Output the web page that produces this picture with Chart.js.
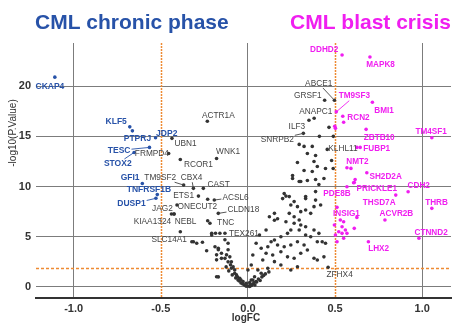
<!DOCTYPE html>
<html>
<head>
<meta charset="utf-8">
<script src="https://cdn.jsdelivr.net/npm/chart.js@4"></script>
<style>
  html, body { margin: 0; padding: 0; background: #fff; }
  #wrap { width: 455px; height: 329px; }
</style>
</head>
<body>
<div id="wrap"><canvas id="volcano" width="455" height="329"></canvas></div>
<script>
// axis ticks
const fcTicks = [-1.0, -0.5, 0.0, 0.5, 1.0];
const pTicks = [0, 5, 10, 15, 20];
const fcCutoff = 0.5;
const pCutoff = 1.9;

// labelled genes: [name, logFC, -log10(p)]
const chronicGenes = [
  ["CKAP4", -1.108, 20.9], ["KLF5", -0.678, 15.95], ["PTPRJ", -0.663, 15.55],
  ["JDP2", -0.53, 14.86], ["TESC", -0.565, 13.9], ["STOX2", -0.653, 13.4],
  ["GFI1", -0.606, 10.3], ["TNFRSF1B", -0.52, 9.2], ["DUSP1", -0.528, 8.83]
];
const blastGenes = [
  ["DDHD2", 0.54, 23.1], ["MAPK8", 0.70, 22.9], ["TM9SF3", 0.507, 17.44],
  ["BMI1", 0.714, 18.4], ["RCN2", 0.544, 17.0], ["ZBTB10", 0.678, 15.7],
  ["TM4SF1", 1.055, 14.86], ["FUBP1", 0.625, 13.9], ["NMT2", 0.568, 11.87],
  ["SH2D2A", 0.682, 11.37], ["PRICKLE1", 0.615, 10.7], ["CDH2", 0.919, 9.48],
  ["PDE8B", 0.568, 9.98], ["THSD7A", 0.848, 9.15], ["THRB", 1.055, 7.83],
  ["INSIG1", 0.625, 6.93], ["ACVR2B", 0.786, 6.67], ["CTNND2", 0.981, 4.85],
  ["LHX2", 0.691, 4.5]
];
const otherGenes = [
  ["FRMPD4", -0.455, 13.3], ["UBN1", -0.436, 14.8], ["ACTR1A", -0.233, 16.5],
  ["WNK1", -0.18, 12.8], ["RCOR1", -0.388, 12.7], ["TM9SF2", -0.369, 10.15],
  ["CBX4", -0.313, 9.82], ["CAST", -0.256, 9.82], ["ETS1", -0.284, 9.05],
  ["ACSL6", -0.193, 8.66], ["JAG2", -0.439, 7.26], ["ONECUT2", -0.407, 8.16],
  ["CLDN18", -0.17, 7.33], ["KIAA1324", -0.424, 7.26], ["NEBL", -0.388, 5.5],
  ["TNC", -0.231, 6.6], ["TEX261", -0.132, 5.35], ["SLC14A1", -0.313, 4.5],
  ["ZFHX4", 0.46, 1.96], ["ABCE1", 0.496, 18.6], ["GRSF1", 0.44, 18.6],
  ["ANAPC1", 0.35, 16.6], ["ILF3", 0.465, 15.9], ["SNRPB2", 0.318, 15.3],
  ["KLHL11", 0.455, 13.7]
];

// where each name is written: [logFC, -log10(p), leader line]
const labelSpots = {
  CKAP4: [-1.136, 20.0, 0], KLF5: [-0.756, 16.5, 0], PTPRJ: [-0.634, 14.8, 0],
  JDP2: [-0.466, 15.3, 0], TESC: [-0.739, 13.6, 1], STOX2: [-0.747, 12.3, 1],
  GFI1: [-0.676, 10.85, 0], TNFRSF1B: [-0.568, 9.65, 0], DUSP1: [-0.668, 8.26, 1],
  FRMPD4: [-0.551, 13.23, 0], UBN1: [-0.358, 14.3, 0], ACTR1A: [-0.17, 17.1, 0],
  WNK1: [-0.114, 13.46, 0], RCOR1: [-0.284, 12.14, 0], TM9SF2: [-0.503, 10.88, 1],
  CBX4: [-0.324, 10.88, 1], CAST: [-0.168, 10.15, 0], ETS1: [-0.369, 9.05, 0],
  ACSL6: [-0.071, 8.93, 1], JAG2: [-0.491, 7.83, 0], ONECUT2: [-0.29, 7.99, 0],
  CLDN18: [-0.026, 7.73, 1], KIAA1324: [-0.548, 6.5, 0], NEBL: [-0.358, 6.5, 0],
  TNC: [-0.128, 6.44, 0], TEX261: [-0.023, 5.34, 0], SLC14A1: [-0.452, 4.68, 0],
  ZFHX4: [0.526, 1.26, 0], ABCE1: [0.406, 20.27, 1], GRSF1: [0.344, 19.0, 0],
  ANAPC1: [0.389, 17.44, 0], ILF3: [0.281, 16.0, 0], SNRPB2: [0.168, 14.7, 1],
  KLHL11: [0.545, 13.8, 0],
  DDHD2: [0.4375, 23.6, 0], MAPK8: [0.761, 22.16, 0], TM9SF3: [0.611, 19.0, 1],
  BMI1: [0.781, 17.6, 0], RCN2: [0.634, 16.9, 0], ZBTB10: [0.753, 14.9, 0],
  TM4SF1: [1.051, 15.5, 0], FUBP1: [0.739, 13.8, 0], NMT2: [0.628, 12.47, 0],
  SH2D2A: [0.79, 10.97, 0], PRICKLE1: [0.739, 9.82, 0], CDH2: [0.98, 10.08, 0],
  PDE8B: [0.511, 9.25, 0], THSD7A: [0.753, 8.39, 0], THRB: [1.082, 8.39, 0],
  INSIG1: [0.565, 7.26, 0], ACVR2B: [0.852, 7.26, 0], CTNND2: [1.051, 5.44, 0],
  LHX2: [0.75, 3.78, 0]
};

// unlabelled points
const chronicExtra = [];
const blastExtra = [
  [0.549, 16.4], [0.498, 16.0], [0.502, 15.8], [0.644, 13.9], [0.591, 11.81],
  [0.61, 10.4], [0.606, 10.38], [0.511, 7.93], [0.496, 6.17], [0.53, 6.67],
  [0.549, 6.5], [0.54, 6.0], [0.559, 5.67], [0.521, 5.5], [0.54, 5.34],
  [0.568, 5.34], [0.549, 4.85], [0.511, 4.5], [0.61, 5.84], [0.502, 5.17]
];
const otherExtra = [
  [0.38, 16.8], [0.41, 15.0], [0.49, 15.0],
  [-0.424, 7.26], [-0.231, 8.73], [-0.218, 6.34], [-0.294, 4.35], [-0.261, 4.45],
  [-0.322, 4.5], [-0.237, 3.6], [-0.208, 5.35], [-0.186, 5.35], [-0.161, 5.35],
  [-0.132, 4.7], [-0.114, 4.35], [-0.189, 4.0], [-0.17, 3.85], [-0.18, 3.2],
  [-0.152, 2.85], [-0.123, 3.2], [-0.114, 3.7], [-0.104, 3.0], [-0.095, 2.5],
  [-0.085, 2.0], [-0.076, 1.7], [-0.066, 1.2], [-0.047, 0.87], [-0.028, 0.53],
  [-0.01, 0.37], [0.01, 0.43], [0.028, 0.7], [0.047, 0.53], [-0.17, 1.0],
  [-0.095, 1.86], [-0.076, 1.36], [-0.057, 0.7], [-0.114, 2.5], [-0.132, 2.85],
  [-0.152, 3.35], [-0.17, 3.7], [-0.18, 2.7], [-0.18, 1.02], [-0.208, 5.17],
  [-0.09, 1.2], [-0.07, 0.9], [-0.05, 0.6], [-0.04, 0.4], [-0.02, 0.2],
  [0.0, 0.1], [0.02, 0.15], [0.03, 0.3], [0.05, 0.5], [0.06, 0.8], [0.08, 1.0],
  [0.1, 1.3], [0.12, 1.5], [-0.11, 1.6], [0.01, 0.05], [-0.01, 0.08],
  [0.04, 0.2], [-0.03, 0.3], [-0.1, 2.2], [-0.06, 1.0], [-0.04, 0.7],
  [0.015, 0.25], [0.035, 0.45], [0.07, 0.65], [0.09, 1.15], [-0.125, 2.0],
  [0.294, 14.2], [0.322, 14.0], [0.369, 14.0], [0.341, 13.3], [0.388, 13.1],
  [0.284, 12.4], [0.379, 12.5], [0.398, 12.0], [0.322, 11.6], [0.369, 11.5],
  [0.256, 11.1], [0.256, 10.8], [0.294, 10.5], [0.341, 10.6], [0.388, 10.7],
  [0.445, 11.8], [0.489, 11.8], [0.436, 10.8], [0.48, 12.6],
  [0.303, 10.5], [0.407, 10.2],
  [0.208, 9.3], [0.237, 9.0], [0.199, 8.8], [0.265, 8.5], [0.331, 8.8],
  [0.388, 8.65], [0.417, 8.16], [0.246, 8.16], [0.284, 8.0], [0.303, 7.5],
  [0.331, 7.66], [0.36, 7.33], [0.379, 8.0], [0.237, 7.33], [0.265, 7.0],
  [0.294, 6.67], [0.218, 6.5], [0.265, 6.34], [0.303, 6.17], [0.331, 6.0],
  [0.379, 5.67], [0.407, 5.34], [0.426, 4.5], [0.445, 4.35], [0.398, 4.5],
  [0.36, 5.0], [0.331, 5.17], [0.294, 5.67], [0.246, 5.67], [0.227, 5.34],
  [0.189, 5.0], [0.152, 4.68], [0.17, 4.18], [0.133, 4.5], [0.114, 4.0],
  [0.208, 4.0], [0.246, 4.18], [0.284, 4.5], [0.322, 4.18], [0.341, 3.68],
  [0.379, 2.86], [0.398, 2.69], [0.303, 3.35], [0.265, 2.86], [0.284, 2.02],
  [0.227, 3.0], [0.189, 3.5], [0.142, 3.18], [0.104, 3.35], [0.085, 2.69],
  [0.152, 2.52], [0.189, 2.19], [0.246, 1.69], [0.114, 1.86], [0.076, 1.36],
  [0.038, 1.02], [0.019, 0.7], [0.057, 1.69], [0.019, 2.19], [0.0, 1.69],
  [0.436, 3.0], [0.123, 7.0], [0.152, 7.33], [0.104, 5.67], [0.066, 5.17],
  [0.047, 4.35], [0.076, 3.85], [0.028, 3.18],
  [0.218, 9.05], [0.331, 9.0], [0.388, 9.5], [0.17, 6.8], [0.152, 6.65]
];

const BLUE = "#2752a8";
const MAGENTA = "#f01ef0";
const GREY = "#333333";
const ORANGE = "#ee8a33";

function toXY(list) {
  return list.map(g => ({ x: g[g.length - 2], y: g[g.length - 1] }));
}

const labelGroups = [
  { genes: chronicGenes, color: BLUE, font: "bold 8.5px Arial, 'Liberation Sans', sans-serif" },
  { genes: blastGenes, color: MAGENTA, font: "bold 8.2px Arial, 'Liberation Sans', sans-serif" },
  { genes: otherGenes, color: "#444", font: "8.3px Arial, 'Liberation Sans', sans-serif" }
];

const decorations = {
  id: "decorations",
  beforeDraw(chart) {
    const ctx = chart.ctx;
    ctx.save();
    ctx.fillStyle = "#fff";
    ctx.fillRect(0, 0, chart.width, chart.height);
    ctx.restore();
  },
  beforeDatasetsDraw(chart) {
    const { ctx, chartArea: a, scales: { x, y } } = chart;
    ctx.save();
    ctx.strokeStyle = ORANGE;
    ctx.lineWidth = 1.5;
    ctx.setLineDash([2, 1]);
    [-fcCutoff, fcCutoff].forEach(v => {
      const px = Math.round(x.getPixelForValue(v)) + 0.5;
      ctx.beginPath();
      ctx.moveTo(px, a.top);
      ctx.lineTo(px, a.bottom);
      ctx.stroke();
    });
    ctx.setLineDash([3, 2]);
    const py = Math.round(y.getPixelForValue(pCutoff)) + 0.5;
    ctx.beginPath();
    ctx.moveTo(a.left, py);
    ctx.lineTo(a.right, py);
    ctx.stroke();
    ctx.restore();
  },
  afterDatasetsDraw(chart) {
    const { ctx, scales: { x, y } } = chart;
    ctx.save();
    ctx.textAlign = "center";
    ctx.textBaseline = "middle";
    labelGroups.forEach(group => {
      ctx.font = group.font;
      ctx.fillStyle = group.color;
      ctx.strokeStyle = group.color;
      group.genes.forEach(g => {
        const spot = labelSpots[g[0]];
        if (!spot) return;
        const lx = x.getPixelForValue(spot[0]);
        const ly = y.getPixelForValue(spot[1]);
        ctx.fillText(g[0], lx, ly);
        if (spot[2]) {
          const px = x.getPixelForValue(g[1]);
          const py = y.getPixelForValue(g[2]);
          const hw = ctx.measureText(g[0]).width / 2 + 1;
          const hh = 4.5;
          const dx = px - lx, dy = py - ly;
          const t = Math.min(Math.abs(dx) > 0 ? hw / Math.abs(dx) : 1e9,
                             Math.abs(dy) > 0 ? hh / Math.abs(dy) : 1e9);
          ctx.lineWidth = 0.9;
          ctx.beginPath();
          ctx.moveTo(lx + dx * t, ly + dy * t);
          ctx.lineTo(px, py);
          ctx.stroke();
        }
      });
    });
    ctx.restore();
  },
  afterDraw(chart) {
    const ctx = chart.ctx;
    ctx.save();
    ctx.textBaseline = "alphabetic";
    ctx.font = "bold 21px Arial, 'Liberation Sans', sans-serif";
    ctx.fillStyle = BLUE;
    ctx.textAlign = "left";
    ctx.fillText("CML chronic phase", 35, 29);
    ctx.fillStyle = MAGENTA;
    ctx.fillText("CML blast crisis", 290, 29);

    ctx.fillStyle = "#333";
    ctx.font = "bold 10px Arial, 'Liberation Sans', sans-serif";
    ctx.textAlign = "center";
    ctx.textBaseline = "middle";
    ctx.fillText("logFC", 246, 318);
    ctx.translate(13, 133);
    ctx.rotate(-Math.PI / 2);
    ctx.font = "10px Arial, 'Liberation Sans', sans-serif";
    ctx.fillText("-log10(P.Value)", 0, 0);
    ctx.restore();
  }
};

new Chart(document.getElementById("volcano"), {
  type: "scatter",
  data: {
    datasets: [
      {
        data: toXY(otherGenes).concat(otherExtra.map(p => ({ x: p[0], y: p[1] }))),
        backgroundColor: GREY, borderWidth: 0, pointRadius: 1.8
      },
      {
        data: toXY(chronicGenes).concat(chronicExtra.map(p => ({ x: p[0], y: p[1] }))),
        backgroundColor: BLUE, borderWidth: 0, pointRadius: 1.8
      },
      {
        data: toXY(blastGenes).concat(blastExtra.map(p => ({ x: p[0], y: p[1] }))),
        backgroundColor: MAGENTA, borderWidth: 0, pointRadius: 1.8
      }
    ]
  },
  options: {
    responsive: false,
    animation: false,
    layout: { padding: { top: 43, left: 0, right: 0, bottom: 0 } },
    plugins: { legend: { display: false }, tooltip: { enabled: false } },
    scales: {
      x: {
        type: "linear",
        min: -1.216, max: 1.165,
        afterFit: s => { s.height = 31; },
        afterBuildTicks: s => { s.ticks = fcTicks.map(v => ({ value: v })); },
        ticks: {
          includeBounds: false,
          padding: 4,
          color: "#333",
          font: { size: 11, weight: "bold", family: "Arial, 'Liberation Sans', sans-serif" },
          callback: v => Number(v).toFixed(1)
        },
        grid: {
          drawTicks: false,
          color: c => (c.tick && Math.abs(Math.abs(c.tick.value) - fcCutoff) < 1e-6) ? "rgba(0,0,0,0)" : "#7c7c7c",
          lineWidth: 1
        },
        border: { display: true, color: "#333", width: 2 }
      },
      y: {
        type: "linear",
        min: -1.1, max: 24.3,
        afterFit: s => { s.width = 36; },
        afterBuildTicks: s => { s.ticks = pTicks.map(v => ({ value: v })); },
        ticks: {
          includeBounds: false,
          padding: 5,
          color: "#333",
          font: { size: 11, weight: "bold", family: "Arial, 'Liberation Sans', sans-serif" }
        },
        grid: { drawTicks: false, color: "#7c7c7c", lineWidth: 1 },
        border: { display: false }
      }
    }
  },
  plugins: [decorations]
});
</script>
</body>
</html>
